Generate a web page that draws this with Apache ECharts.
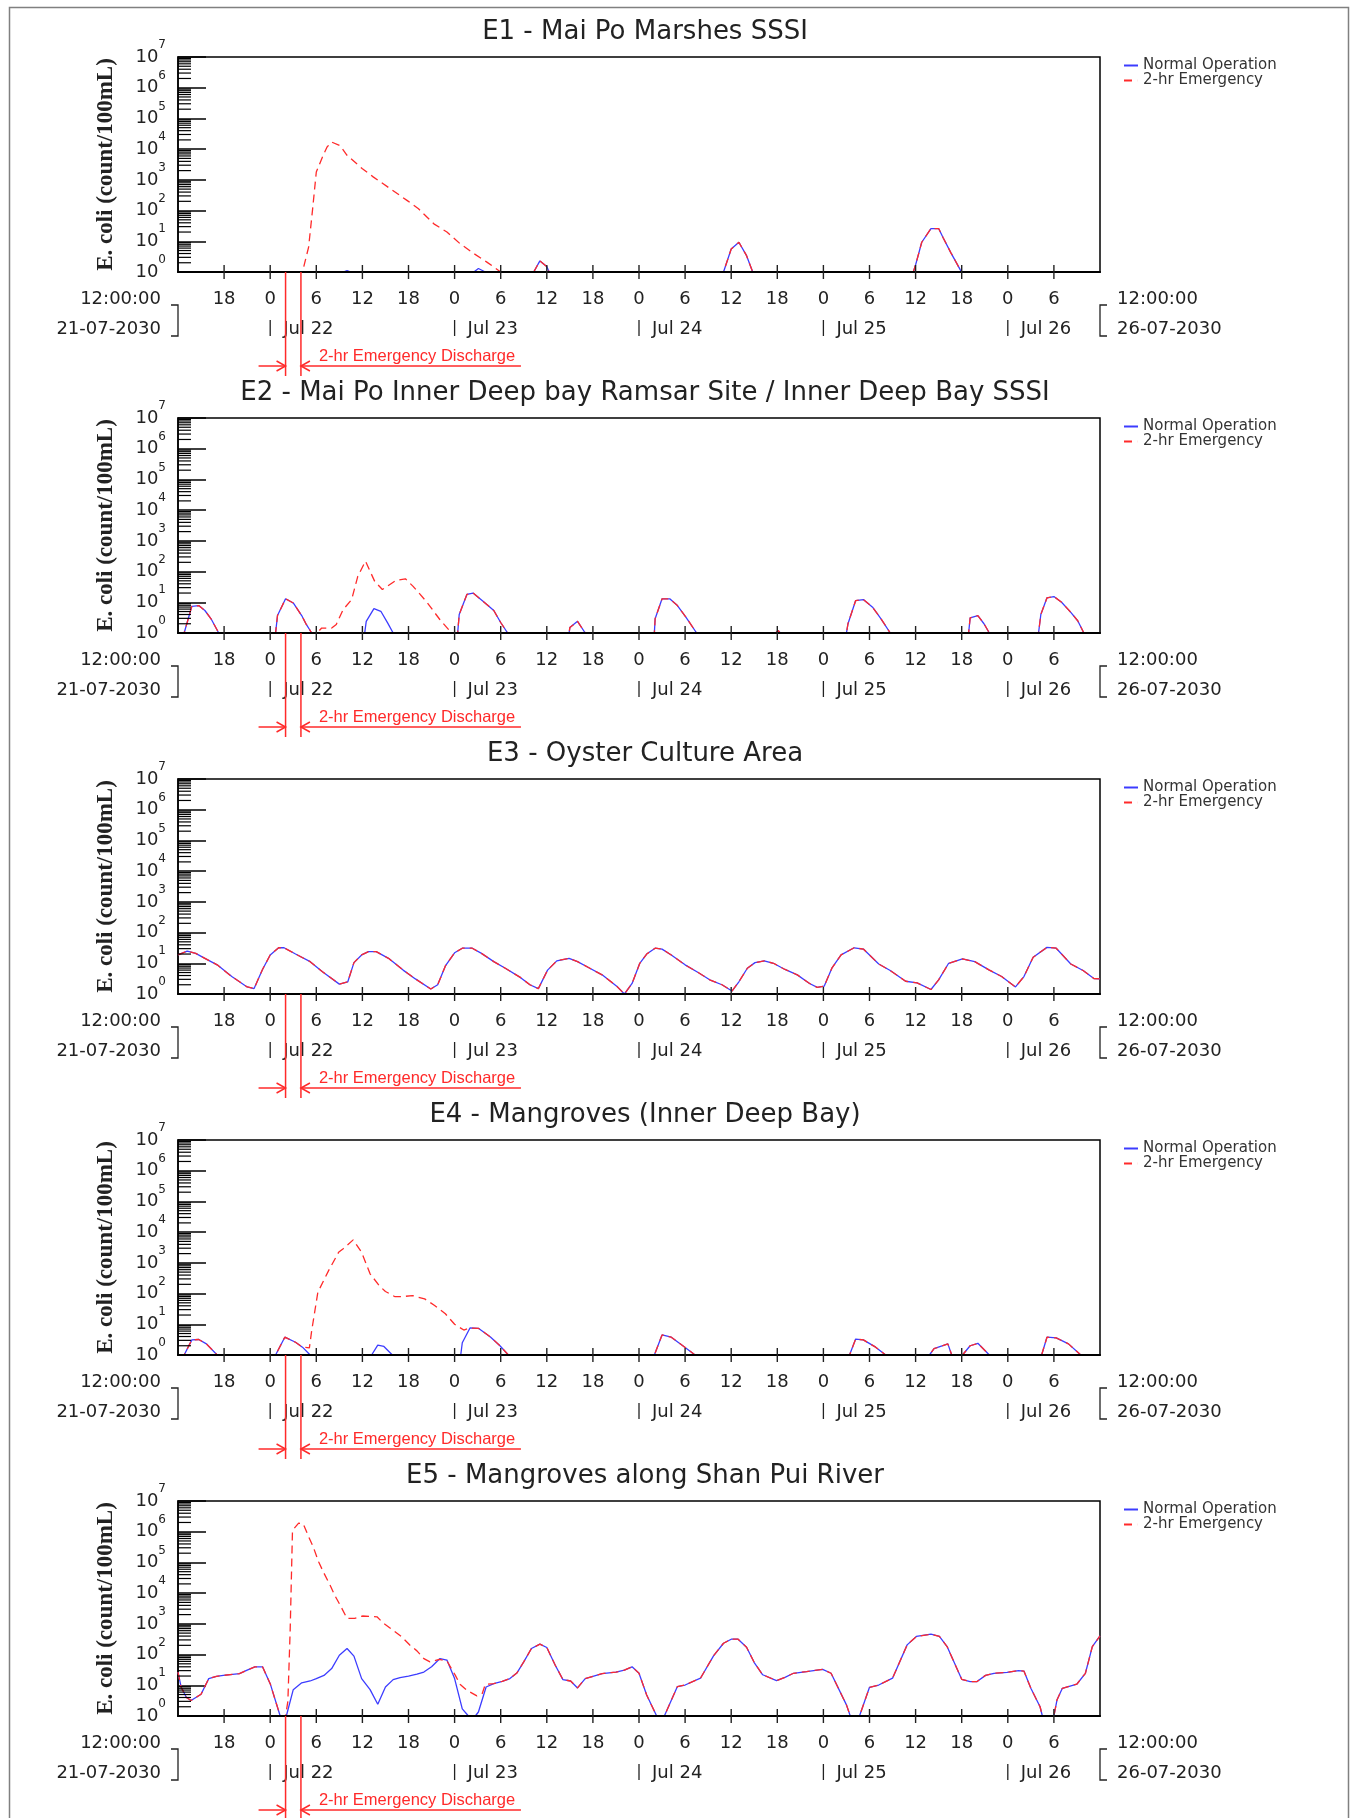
<!DOCTYPE html>
<html><head><meta charset="utf-8">
<script src="https://cdn.jsdelivr.net/npm/echarts@6/dist/echarts.min.js"></script>
<style>html,body{margin:0;padding:0;background:#fff}#c{width:1350px;height:1818px}</style>
</head><body><div id="c"></div>
<script>
// ---------- data ----------
const panelTitles = [
  'E1 - Mai Po Marshes SSSI',
  'E2 - Mai Po Inner Deep bay Ramsar Site / Inner Deep Bay SSSI',
  'E3 - Oyster Culture Area',
  'E4 - Mangroves (Inner Deep Bay)',
  'E5 - Mangroves along Shan Pui River'
];
const seriesNames = ['Normal Operation', '2-hr Emergency'];
const yAxisName = 'E. coli (count/100mL)';
const tickHours = [6,12,18,24,30,36,42,48,54,60,66,72,78,84,90,96,102,108,114];
const hourLabels = ['18','0','6','12','18','0','6','12','18','0','6','12','18','0','6','12','18','0','6'];
const dayHours = [12,36,60,84,108];
const dayLabels = ['Jul 22','Jul 23','Jul 24','Jul 25','Jul 26'];
const startLabels = ['12:00:00','21-07-2030'];
const endLabels = ['12:00:00','26-07-2030'];
const emergencyHours = [14,16];
const emergencyText = '2-hr Emergency Discharge';

const e1Normal = [[0,1],[21.5,1],[22,1.1],[22.5,1],[38.5,1],[39.1,1.3],[40,1],[46.3,1],[47.1,2.3],[48,1.5],[48.3,1],[71,1],[72,5.6],[73,9.3],[74,3.4],[74.8,1],[95.7,1],[96,1.7],[96.8,9.3],[98,26],[99,26],[99.6,12.8],[100.6,4.2],[101.8,1.2],[102,1],[120,1]];
const e1Emergency = [[0,1],[16.2,1],[17,6.5],[17.5,100],[18,1800],[18.9,6300],[19.4,11700],[20,17000],[21.1,13000],[22,6300],[24,2300],[25.4,1250],[27.6,520],[29.8,215],[31.3,115],[33.3,37],[35,20],[36.7,8.4],[38.5,4],[40.2,2.1],[42,1],[46.3,1],[47.1,2.3],[48,1.5],[48.3,1],[71,1],[72,5.6],[73,9.3],[74,3.4],[74.8,1],[95.7,1],[96,1.7],[96.8,9.3],[98,26],[99,26],[99.6,12.8],[100.6,4.2],[101.8,1.2],[102,1],[120,1]];

const e2Normal = [[0,1],[0.8,1],[1.8,7.4],[2.7,7.8],[3.5,5.4],[4.3,2.9],[5.3,1],[12.7,1],[12.95,3.7],[14,13],[15,9.5],[16.1,3.7],[16.7,1.9],[17.4,1],[24.3,1],[24.5,2.4],[25.5,6.2],[26.4,5.1],[27.3,2.1],[28,1],[36.4,1],[36.6,4],[37.6,18],[38.4,20],[39.7,10.8],[41.1,5.4],[42,2.2],[42.9,1],[50.9,1],[51,1.5],[52,2.4],[53,1],[62,1],[62.1,2.9],[63,13],[64,13],[65,7.8],[66.1,3.3],[67.5,1],[77.8,1],[78.1,1.2],[78.4,1],[87,1],[87.2,2],[88.2,11.4],[89.2,12.3],[90.4,6.9],[91.5,2.9],[92.7,1],[102.9,1],[103.1,3.1],[104.1,3.7],[104.9,2],[105.6,1],[112,1],[112.3,4],[113.1,14],[114,15.4],[115,10],[116.2,4.7],[117.1,2.5],[117.9,1],[120,1]];
const e2Emergency = [[0,1],[0.8,1],[1.8,7.4],[2.7,7.8],[3.5,5.4],[4.3,2.9],[5.3,1],[12.7,1],[12.95,3.7],[14,13],[15,9.5],[16.1,3.7],[16.7,1.9],[17.4,1],[18.1,1],[18.7,1.45],[20,1.45],[20.6,1.9],[21.5,5.8],[22.6,12.2],[23.4,70],[24.4,218],[25.6,48],[26.6,26],[28.4,52],[29.6,58],[30.6,33],[32.3,10.8],[34.1,2.7],[35.6,1],[36.4,1],[36.6,4],[37.6,18],[38.4,20],[39.7,10.8],[41.1,5.4],[42,2.2],[42.9,1],[50.9,1],[51,1.5],[52,2.4],[53,1],[62,1],[62.1,2.9],[63,13],[64,13],[65,7.8],[66.1,3.3],[67.5,1],[77.8,1],[78.1,1.2],[78.4,1],[87,1],[87.2,2],[88.2,11.4],[89.2,12.3],[90.4,6.9],[91.5,2.9],[92.7,1],[102.9,1],[103.1,3.1],[104.1,3.7],[104.9,2],[105.6,1],[112,1],[112.3,4],[113.1,14],[114,15.4],[115,10],[116.2,4.7],[117.1,2.5],[117.9,1],[120,1]];

const e3Normal = [[0,18.7],[1.2,25],[2.3,21],[3.5,14.5],[5.1,8.9],[7,3.7],[9,1.7],[9.9,1.5],[11,6.3],[12,18.7],[13.1,32],[13.8,32],[15.3,20],[17.2,11.3],[18.8,5.3],[21,2.1],[22.1,2.5],[22.9,10.5],[23.9,18.7],[24.8,24],[25.8,24],[27.4,14.5],[29.3,6],[30.9,3.1],[32.9,1.45],[33.8,2],[34.8,8.2],[36,22],[37,31],[38.3,31],[39.5,21],[41.1,11.3],[42.6,6.9],[44.6,3.4],[45.8,2],[46.9,1.5],[48.1,6],[49.3,12],[50.9,14.5],[52,11.3],[53.6,6.9],[55.2,4.2],[57.1,1.8],[58.1,1],[59.1,2.2],[60.1,10],[61,20],[62.1,31],[63,29],[64.2,18.7],[66,8.9],[67.7,5],[69.2,2.9],[70.8,2],[72.1,1.25],[73,2.5],[74.1,6.9],[75.1,10.5],[76.3,12],[77.5,10],[79,6.3],[80.6,4.2],[82.2,2.2],[83.2,1.65],[84.1,1.8],[85.1,6.9],[86.3,18.7],[88,32],[89.2,29],[91.2,9.5],[92.7,5.8],[94.7,2.6],[96.2,2.3],[98,1.4],[99,2.9],[100.3,10],[102.1,13.8],[103.7,11.3],[105.6,6],[107.2,3.7],[109,1.7],[110.1,3.7],[111.3,15.8],[113.1,33],[114.3,31],[116.2,9.5],[117.8,5.8],[119.2,3.2],[120,3.1]];
const e3Emergency = [[0,18.7],[1.2,25],[2.3,21],[3.5,14.5],[5.1,8.9],[7,3.7],[9,1.7],[9.9,1.5],[11,6.3],[12,18.7],[13.1,32],[13.8,32],[15.3,20],[17.2,11.3],[18.8,5.3],[21,2.1],[22.1,2.5],[22.9,10.5],[23.9,18.7],[24.8,24],[25.8,24],[27.4,14.5],[29.3,6],[30.9,3.1],[32.9,1.45],[33.8,2],[34.8,8.2],[36,22],[37,31],[38.3,31],[39.5,21],[41.1,11.3],[42.6,6.9],[44.6,3.4],[45.8,2],[46.9,1.5],[48.1,6],[49.3,12],[50.9,14.5],[52,11.3],[53.6,6.9],[55.2,4.2],[57.1,1.8],[58.1,1],[59.1,2.2],[60.1,10],[61,20],[62.1,31],[63,29],[64.2,18.7],[66,8.9],[67.7,5],[69.2,2.9],[70.8,2],[72.1,1.25],[73,2.5],[74.1,6.9],[75.1,10.5],[76.3,12],[77.5,10],[79,6.3],[80.6,4.2],[82.2,2.2],[83.2,1.65],[84.1,1.8],[85.1,6.9],[86.3,18.7],[88,32],[89.2,29],[91.2,9.5],[92.7,5.8],[94.7,2.6],[96.2,2.3],[98,1.4],[99,2.9],[100.3,10],[102.1,13.8],[103.7,11.3],[105.6,6],[107.2,3.7],[109,1.7],[110.1,3.7],[111.3,15.8],[113.1,33],[114.3,31],[116.2,9.5],[117.8,5.8],[119.2,3.2],[120,3.1]];

const e4Normal = [[0,1],[0.8,1],[1.8,3.1],[2.7,3.2],[3.7,2.3],[5.1,1],[12.7,1],[13.9,3.8],[15.3,2.6],[16.2,1.8],[17.2,1],[25.2,1],[26,2.1],[26.8,1.9],[27.9,1],[36.8,1],[37,2.5],[38,7.6],[39.1,7.4],[40.7,3.8],[41.9,2],[43,1],[62,1],[63,4.5],[64.2,3.8],[65.7,2],[67.3,1],[87.4,1],[88.2,3.3],[89.2,3.1],[90.8,1.8],[92.1,1],[97.8,1],[98.4,1.6],[100.2,2.3],[100.7,1],[102.1,1],[103.1,2],[104.1,2.4],[105.6,1],[112.4,1],[113.1,3.8],[114.3,3.6],[115.9,2.3],[117.5,1],[120,1]];
const e4Emergency = [[0,1],[0.8,1],[1.8,3.1],[2.7,3.2],[3.7,2.3],[5.1,1],[12.7,1],[13.9,3.8],[15.3,2.6],[16.2,1.8],[17.1,1.7],[17.4,6.2],[18.2,110],[19.6,560],[20.9,2200],[21.5,2900],[22.8,5600],[23.9,2200],[25,440],[26.2,180],[27,117],[28.2,80],[29.3,80],[30.5,86],[32.1,67],[33.4,41],[34.8,22],[36,10],[37.2,6.5],[38,7.6],[39.1,7.4],[40.7,3.8],[41.9,2],[43,1],[62,1],[63,4.5],[64.2,3.8],[65.7,2],[67.3,1],[73.8,1],[74,1.1],[74.2,1],[87.4,1],[88.2,3.3],[89.2,3.1],[90.8,1.8],[92.1,1],[97.8,1],[98.4,1.6],[100.2,2.3],[100.7,1],[102.1,1],[103.1,2],[104.1,2.4],[105.6,1],[112.4,1],[113.1,3.8],[114.3,3.6],[115.9,2.3],[117.5,1],[120,1]];

const e5Normal = [[0,27],[0.4,8.8],[1.1,4],[1.7,3.2],[3,5.1],[4,16.5],[5,19.6],[5.9,21],[8,24],[9,31],[10,40],[11,40],[12,11.3],[13.3,1],[14.1,1],[15,7.2],[16.1,12],[17.2,13.8],[18,16.5],[19,21],[20,35],[21,95],[22,158],[22.9,89],[23.9,16.5],[25,7.2],[26,2.4],[27,8.8],[28,15.3],[28.9,17.8],[30,20],[31.1,23],[32,27],[33,40],[34.1,74],[35,66],[36,16.5],[37,1.7],[37.8,1],[38.7,1],[39.1,1.35],[40.1,8.8],[41.1,11.3],[42.2,13.5],[43.2,16.5],[44.1,25],[45,58],[46,158],[47.1,218],[48,170],[49.1,45],[50.1,15.3],[51.1,13.8],[52,8.2],[53,16.5],[54,19.6],[55.2,24],[57,27],[58.1,31],[59.1,40],[60,24.6],[61,4.8],[62.3,1],[63.3,1],[65,9.1],[66,10.2],[68,17],[69.7,91],[71,234],[72,316],[72.9,316],[74,174],[75,55],[76.1,22],[77.9,14.2],[79,18.2],[80.1,24.6],[81.8,28],[83.9,33],[85,24.6],[87,2.3],[87.5,1],[88.7,1],[90,8.6],[91.2,10.2],[93,17],[94.9,207],[96.1,389],[98,460],[99.1,389],[100.1,182],[102,15.7],[103.1,13.2],[104,13.2],[105.1,21],[106.2,24.6],[107.9,26.5],[109.4,30],[110.1,29],[111,8],[112.2,2],[112.5,1],[114,1],[114.4,3.3],[115.1,8],[117,11],[118.1,24.6],[119,182],[120,407]];
const e5Emergency = [[0,27],[0.4,8.8],[1.1,4],[1.7,3.2],[3,5.1],[4,16.5],[5,19.6],[5.9,21],[8,24],[9,31],[10,40],[11,40],[12,11.3],[13.3,1],[14,1],[14.3,3],[14.6,630],[14.9,1.1e6],[15.7,1.9e6],[16.3,1.8e6],[17,6.9e5],[17.6,3.2e5],[18.3,1.05e5],[18.9,5e4],[19.8,1.8e4],[20.4,8500],[21.1,4100],[22,1500],[23,1500],[24,1800],[25.9,1700],[26.7,1070],[28,620],[29.1,380],[30.2,200],[31.1,132],[32,74],[32.8,58],[34,70],[35,62],[36.1,21],[36.7,10.8],[37.6,6.9],[38.9,4.5],[39.6,5.4],[40,10.8],[41.1,11.3],[42.2,13.5],[43.2,16.5],[44.1,25],[45,58],[46,158],[47.1,218],[48,170],[49.1,45],[50.1,15.3],[51.1,13.8],[52,8.2],[53,16.5],[54,19.6],[55.2,24],[57,27],[58.1,31],[59.1,40],[60,24.6],[61,4.8],[62.3,1],[63.3,1],[65,9.1],[66,10.2],[68,17],[69.7,91],[71,234],[72,316],[72.9,316],[74,174],[75,55],[76.1,22],[77.9,14.2],[79,18.2],[80.1,24.6],[81.8,28],[83.9,33],[85,24.6],[87,2.3],[87.5,1],[88.7,1],[90,8.6],[91.2,10.2],[93,17],[94.9,207],[96.1,389],[98,460],[99.1,389],[100.1,182],[102,15.7],[103.1,13.2],[104,13.2],[105.1,21],[106.2,24.6],[107.9,26.5],[109.4,30],[110.1,29],[111,8],[112.2,2],[112.5,1],[114,1],[114.4,3.3],[115.1,8],[117,11],[118.1,24.6],[119,182],[120,407]];

const panelData = [
  [e1Normal, e1Emergency],
  [e2Normal, e2Emergency],
  [e3Normal, e3Emergency],
  [e4Normal, e4Emergency],
  [e5Normal, e5Emergency]
];

// minor log ticks 2..9 in each decade (axis decoration)
const minorTickValues = [];
for (let k = 0; k < 7; k++) for (let m = 2; m <= 9; m++) minorTickValues.push(m * Math.pow(10, k));

// ---------- layout / style ----------
const panelTops = [57, 418, 779, 1140, 1501];
const plotH = 215;
const TXT = '#222';
const RED = '#ff2a2a';
const BLUE = '#3c3cff';
const sans = '"DejaVu Sans", sans-serif';

const grids = [], xAxes = [], yAxes = [], series = [], titles = [], legends = [];

panelTitles.forEach((t, i) => {
  const top = panelTops[i];
  grids.push({left: 178, right: 250, top: top, height: plotH, show: true,
    borderColor: '#000', borderWidth: 1.5, backgroundColor: 'transparent'});
  xAxes.push({type: 'value', gridIndex: i, min: 0, max: 120, interval: 6, z: 10,
    axisLine: {show: true, onZero: false, lineStyle: {color: '#000', width: 2.2}},
    axisTick: {show: false}, splitLine: {show: false},
    axisLabel: {margin: 18, fontSize: 18, color: TXT, fontFamily: sans,
      showMinLabel: false, showMaxLabel: false,
      formatter: v => { const k = tickHours.indexOf(v); return k >= 0 ? hourLabels[k] : ''; }}});
  yAxes.push({type: 'log', logBase: 10, gridIndex: i, min: 1, max: 1e7,
    axisLine: {show: true, lineStyle: {color: '#000', width: 1.5}},
    axisTick: {show: true, inside: true, length: 28, lineStyle: {color: '#000', width: 1.5}},
    splitLine: {show: false},
    axisLabel: {margin: 12, color: TXT,
      formatter: v => '{a|10}{s|' + Math.round(Math.log10(v)) + '}',
      rich: {a: {fontSize: 18, fontFamily: sans, color: TXT, lineHeight: 36, verticalAlign: 'middle'},
             s: {fontSize: 12, fontFamily: sans, color: TXT, lineHeight: 12, verticalAlign: 'top'}}},
    name: yAxisName, nameLocation: 'middle', nameGap: 60, nameRotate: 90,
    nameTextStyle: {fontFamily: '"Liberation Serif", serif', fontSize: 23, fontWeight: 'bold', color: TXT}});
  titles.push({text: t, left: 645, top: top - 38, textAlign: 'center', padding: 0,
    textStyle: {fontSize: 26, fontWeight: 'normal', fontFamily: '"DejaVu Sans ExtraLight", "DejaVu Sans", sans-serif', color: TXT, lineHeight: 26}});
  legends.push({orient: 'vertical', left: 1124, top: top + 1, padding: 0, itemGap: 0,
    itemWidth: 14, itemHeight: 2, selectedMode: false,
    data: [{name: seriesNames[0], icon: 'rect'},
           {name: seriesNames[1], icon: 'path://M0,0H8V2H0ZM13.9,0H14V2H13.9Z'}],
    textStyle: {fontSize: 15, color: '#333', fontFamily: sans, lineHeight: 15}});

  const [nData, eData] = panelData[i];
  series.push({name: seriesNames[0], type: 'line', xAxisIndex: i, yAxisIndex: i, data: nData,
    symbol: 'none', z: 3, lineStyle: {color: BLUE, width: 1.3}, itemStyle: {color: BLUE}});
  series.push({name: seriesNames[1], type: 'line', xAxisIndex: i, yAxisIndex: i, data: eData,
    symbol: 'none', z: 4, lineStyle: {color: RED, width: 1.3, type: [8, 5]}, itemStyle: {color: RED}});

  // x ticks crossing the axis
  series.push({type: 'custom', xAxisIndex: i, yAxisIndex: i, silent: true, z: 12,
    data: tickHours.map(h => [h, 1]),
    renderItem: (p, api) => {
      const c = api.coord([api.value(0), api.value(1)]);
      return {type: 'line', shape: {x1: c[0], y1: c[1] - 7, x2: c[0], y2: c[1] + 7},
        style: {stroke: '#222', lineWidth: 1.4}};
    }});
  // minor y ticks
  series.push({type: 'custom', xAxisIndex: i, yAxisIndex: i, silent: true, z: 12,
    data: minorTickValues.map(v => [0, v]),
    renderItem: (p, api) => {
      const c = api.coord([api.value(0), api.value(1)]);
      return {type: 'line', shape: {x1: c[0], y1: c[1], x2: c[0] + 13, y2: c[1]},
        style: {stroke: '#000', lineWidth: 1.2}};
    }});
  // day marks
  series.push({type: 'custom', xAxisIndex: i, yAxisIndex: i, silent: true, z: 12,
    data: dayHours.map(h => [h, 1]),
    renderItem: (p, api) => {
      const c = api.coord([api.value(0), api.value(1)]);
      return {type: 'group', children: [
        {type: 'line', shape: {x1: c[0], y1: c[1] + 48, x2: c[0], y2: c[1] + 64}, style: {stroke: '#222', lineWidth: 1.3}},
        {type: 'text', x: c[0] + 13, y: c[1] + 57, style: {text: dayLabels[p.dataIndex], fill: TXT,
          font: '18px ' + sans, align: 'left', verticalAlign: 'middle'}}
      ]};
    }});
  // start / end labels with brackets
  series.push({type: 'custom', xAxisIndex: i, yAxisIndex: i, silent: true, z: 12,
    data: [[0, 1], [120, 1]],
    renderItem: (p, api) => {
      const c = api.coord([api.value(0), api.value(1)]);
      const left = p.dataIndex === 0;
      const labs = left ? startLabels : endLabels;
      const d = left ? -1 : 1;
      return {type: 'group', children: [
        {type: 'polyline', shape: {points: [[c[0] + 7 * d, c[1] + 33], [c[0], c[1] + 33], [c[0], c[1] + 64], [c[0] + 7 * d, c[1] + 64]]},
          style: {stroke: '#222', fill: null, lineWidth: 1.3}},
        {type: 'text', x: c[0] + 17 * d, y: c[1] + 27, style: {text: labs[0], fill: TXT, font: '18px ' + sans,
          align: left ? 'right' : 'left', verticalAlign: 'middle'}},
        {type: 'text', x: c[0] + 17 * d, y: c[1] + 57, style: {text: labs[1], fill: TXT, font: '18px ' + sans,
          align: left ? 'right' : 'left', verticalAlign: 'middle'}}
      ]};
    }});
  // emergency discharge annotation
  series.push({type: 'custom', xAxisIndex: i, yAxisIndex: i, silent: true, z: 12,
    data: emergencyHours.map(h => [h, 1]),
    renderItem: (p, api) => {
      const c = api.coord([api.value(0), api.value(1)]);
      const x = c[0], y = c[1], ay = y + 94;
      const st = {stroke: RED, fill: null, lineWidth: 1.5};
      const ch = [{type: 'line', shape: {x1: x, y1: y, x2: x, y2: y + 104}, style: st}];
      if (p.dataIndex === 0) {
        ch.push({type: 'line', shape: {x1: x - 27, y1: ay, x2: x, y2: ay}, style: st});
        ch.push({type: 'polyline', shape: {points: [[x - 9, ay - 5], [x, ay], [x - 9, ay + 5]]}, style: st});
      } else {
        ch.push({type: 'line', shape: {x1: x, y1: ay, x2: x + 220, y2: ay}, style: st});
        ch.push({type: 'polyline', shape: {points: [[x + 9, ay - 5], [x, ay], [x + 9, ay + 5]]}, style: st});
        ch.push({type: 'text', x: x + 18, y: y + 84, style: {text: emergencyText, fill: RED,
          font: '16.5px "Liberation Sans Narrow", "Liberation Sans", sans-serif', align: 'left', verticalAlign: 'middle'}});
      }
      return {type: 'group', children: ch};
    }});
});

const chart = echarts.init(document.getElementById('c'), null, {renderer: 'canvas', width: 1350, height: 1818});
chart.setOption({
  animation: false,
  backgroundColor: '#fff',
  title: titles,
  legend: legends,
  grid: grids,
  xAxis: xAxes,
  yAxis: yAxes,
  series: series,
  graphic: [{type: 'rect', silent: true, shape: {x: 9.5, y: 7.5, width: 1339, height: 1830},
    style: {fill: null, stroke: '#808080', lineWidth: 1.5}}]
});
</script></body></html>
